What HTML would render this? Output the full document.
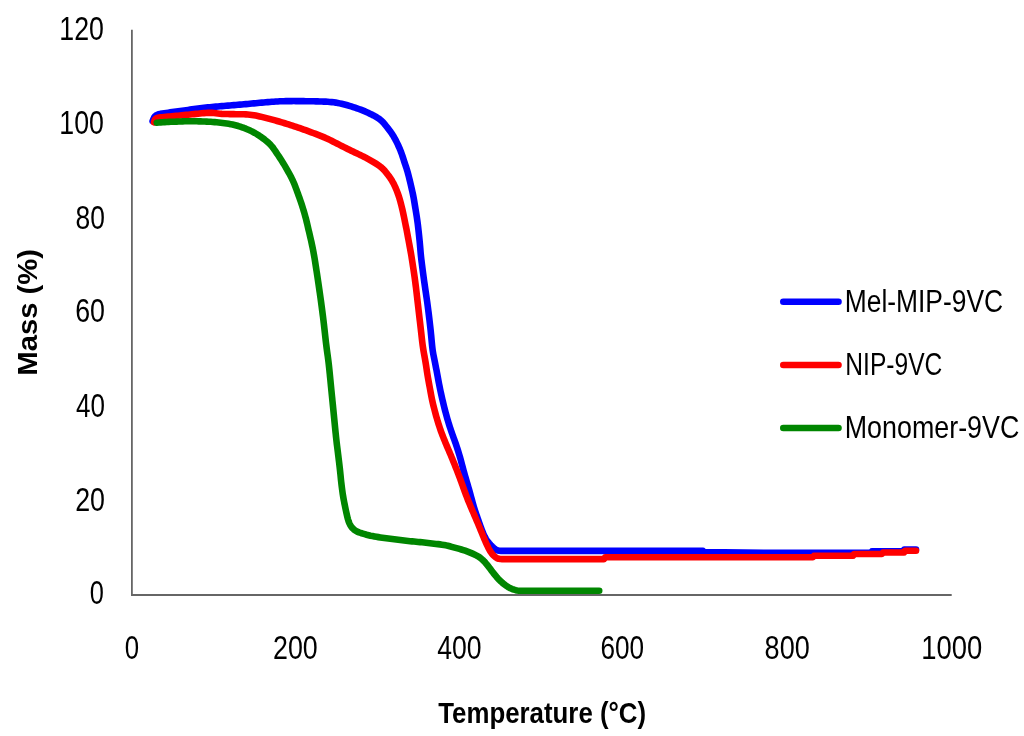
<!DOCTYPE html>
<html><head><meta charset="utf-8"><title>TGA</title>
<style>
html,body{margin:0;padding:0;background:#fff;}
svg{display:block}
text{font-family:"Liberation Sans",sans-serif;fill:#000}
</style></head><body>
<svg width="1024" height="736" viewBox="0 0 1024 736">
<rect width="1024" height="736" fill="#fff"/>
<g fill="none" stroke-linecap="round" stroke-linejoin="round" stroke-width="6.6">
<path stroke="#0000ff" d="M152.60,121.20 L153.27,119.33 L154.09,117.58 L155.22,116.09 L156.71,115.00 L158.48,114.30 L160.40,113.86 L162.37,113.53 L164.35,113.23 L166.33,112.95 L168.31,112.66 L170.29,112.38 L172.27,112.11 L174.26,111.84 L176.24,111.57 L178.22,111.30 L180.21,111.02 L182.19,110.75 L184.17,110.47 L186.15,110.19 L188.13,109.92 L190.12,109.64 L192.10,109.37 L194.08,109.10 L196.06,108.83 L198.05,108.57 L200.03,108.32 L202.02,108.07 L204.01,107.83 L205.99,107.60 L207.98,107.38 L209.97,107.18 L211.96,106.98 L213.96,106.79 L215.95,106.61 L217.94,106.43 L219.94,106.26 L221.93,106.09 L223.92,105.92 L225.92,105.75 L227.91,105.59 L229.91,105.43 L231.90,105.27 L233.90,105.11 L235.89,104.95 L237.89,104.79 L239.88,104.62 L241.88,104.46 L243.87,104.29 L245.86,104.12 L247.86,103.93 L249.85,103.75 L251.84,103.55 L253.83,103.36 L255.82,103.16 L257.82,102.97 L259.81,102.79 L261.80,102.62 L263.80,102.45 L265.79,102.29 L267.79,102.12 L269.78,101.96 L271.78,101.81 L273.77,101.67 L275.77,101.54 L277.77,101.42 L279.76,101.32 L281.76,101.24 L283.76,101.18 L285.76,101.14 L287.77,101.10 L289.77,101.09 L291.77,101.08 L293.77,101.07 L295.77,101.08 L297.77,101.09 L299.77,101.11 L301.77,101.13 L303.77,101.16 L305.77,101.18 L307.78,101.21 L309.78,101.24 L311.78,101.27 L313.78,101.31 L315.78,101.35 L317.78,101.39 L319.78,101.44 L321.78,101.50 L323.78,101.58 L325.78,101.67 L327.78,101.78 L329.77,101.92 L331.76,102.10 L333.75,102.33 L335.73,102.62 L337.70,102.97 L339.66,103.37 L341.61,103.81 L343.56,104.27 L345.50,104.76 L347.43,105.28 L349.35,105.83 L351.27,106.41 L353.18,107.02 L355.07,107.65 L356.97,108.30 L358.85,108.98 L360.72,109.68 L362.58,110.41 L364.43,111.17 L366.27,111.97 L368.09,112.80 L369.89,113.66 L371.69,114.55 L373.47,115.46 L375.23,116.41 L376.95,117.42 L378.64,118.49 L380.24,119.67 L381.75,120.97 L383.14,122.39 L384.44,123.91 L385.69,125.47 L386.93,127.03 L388.17,128.60 L389.39,130.19 L390.58,131.80 L391.73,133.44 L392.81,135.11 L393.85,136.83 L394.83,138.57 L395.77,140.33 L396.67,142.12 L397.55,143.92 L398.40,145.73 L399.22,147.55 L400.00,149.39 L400.74,151.25 L401.44,153.13 L402.11,155.01 L402.74,156.91 L403.36,158.81 L403.97,160.72 L404.59,162.62 L405.22,164.52 L405.86,166.42 L406.49,168.32 L407.08,170.23 L407.65,172.15 L408.17,174.08 L408.67,176.01 L409.16,177.96 L409.63,179.90 L410.09,181.85 L410.56,183.79 L411.02,185.74 L411.48,187.69 L411.93,189.64 L412.36,191.59 L412.78,193.55 L413.18,195.51 L413.55,197.48 L413.91,199.44 L414.25,201.42 L414.58,203.39 L414.90,205.37 L415.23,207.34 L415.55,209.31 L415.88,211.29 L416.20,213.26 L416.52,215.24 L416.83,217.22 L417.12,219.20 L417.40,221.18 L417.66,223.16 L417.91,225.15 L418.14,227.13 L418.37,229.12 L418.59,231.11 L418.81,233.10 L419.02,235.09 L419.23,237.08 L419.43,239.07 L419.62,241.06 L419.81,243.06 L419.99,245.05 L420.16,247.04 L420.33,249.04 L420.49,251.03 L420.66,253.03 L420.85,255.02 L421.06,257.01 L421.28,259.00 L421.52,260.98 L421.76,262.97 L422.01,264.96 L422.26,266.94 L422.52,268.92 L422.78,270.91 L423.04,272.89 L423.31,274.88 L423.58,276.86 L423.85,278.84 L424.12,280.83 L424.40,282.81 L424.68,284.79 L424.97,286.77 L425.26,288.75 L425.55,290.73 L425.85,292.71 L426.14,294.69 L426.43,296.67 L426.71,298.65 L426.99,300.63 L427.27,302.61 L427.54,304.59 L427.80,306.58 L428.06,308.56 L428.31,310.55 L428.56,312.53 L428.80,314.52 L429.04,316.51 L429.28,318.49 L429.51,320.48 L429.74,322.47 L429.97,324.46 L430.20,326.45 L430.42,328.43 L430.64,330.42 L430.84,332.41 L431.04,334.41 L431.24,336.40 L431.42,338.39 L431.60,340.38 L431.79,342.37 L431.98,344.37 L432.19,346.36 L432.42,348.34 L432.68,350.33 L432.98,352.31 L433.32,354.28 L433.70,356.24 L434.10,358.20 L434.51,360.16 L434.91,362.12 L435.30,364.08 L435.68,366.05 L436.06,368.01 L436.44,369.98 L436.82,371.94 L437.19,373.91 L437.56,375.88 L437.93,377.84 L438.29,379.81 L438.66,381.78 L439.03,383.75 L439.41,385.71 L439.80,387.67 L440.20,389.63 L440.62,391.59 L441.04,393.55 L441.48,395.50 L441.92,397.45 L442.37,399.40 L442.82,401.35 L443.29,403.30 L443.76,405.24 L444.24,407.18 L444.73,409.12 L445.23,411.06 L445.74,413.00 L446.27,414.93 L446.81,416.85 L447.35,418.78 L447.91,420.70 L448.49,422.62 L449.07,424.53 L449.68,426.44 L450.30,428.34 L450.94,430.24 L451.59,432.13 L452.26,434.01 L452.93,435.90 L453.61,437.78 L454.30,439.66 L454.98,441.54 L455.64,443.43 L456.29,445.32 L456.92,447.22 L457.54,449.13 L458.14,451.03 L458.73,452.95 L459.31,454.86 L459.87,456.78 L460.42,458.71 L460.95,460.64 L461.46,462.57 L461.96,464.51 L462.47,466.45 L462.98,468.38 L463.50,470.31 L464.04,472.24 L464.58,474.16 L465.14,476.09 L465.69,478.01 L466.25,479.93 L466.81,481.85 L467.37,483.77 L467.93,485.70 L468.48,487.62 L469.04,489.54 L469.59,491.46 L470.14,493.39 L470.68,495.32 L471.20,497.25 L471.72,499.18 L472.24,501.11 L472.76,503.05 L473.29,504.97 L473.85,506.90 L474.44,508.81 L475.05,510.71 L475.69,512.61 L476.35,514.50 L477.01,516.39 L477.66,518.28 L478.31,520.17 L478.96,522.06 L479.63,523.95 L480.30,525.84 L481.00,527.71 L481.71,529.58 L482.44,531.44 L483.19,533.30 L483.98,535.13 L484.84,536.94 L485.79,538.69 L486.87,540.36 L488.06,541.96 L489.34,543.49 L490.69,544.97 L492.08,546.41 L493.52,547.76 L495.01,548.96 L496.47,549.91 L497.86,550.51 L499.34,550.79 L501.07,550.88 L502.98,550.90 L504.97,550.90 L506.97,550.91 L508.97,550.91 L510.97,550.91 L512.97,550.91 L514.98,550.91 L516.98,550.91 L518.98,550.91 L520.98,550.91 L522.98,550.91 L524.98,550.91 L526.98,550.91 L528.98,550.91 L530.99,550.91 L532.99,550.91 L534.99,550.91 L536.99,550.91 L538.99,550.91 L540.99,550.91 L542.99,550.91 L544.99,550.90 L546.99,550.90 L549.00,550.90 L551.00,550.90 L553.00,550.90 L555.00,550.90 L556.00,550.90 L703.00,550.90 L704.00,552.00 L768.00,552.75 L871.00,552.75 L872.00,551.25 L903.00,551.25 L904.00,549.60 L916.00,549.60"/>
<path stroke="#ff0000" d="M154.00,122.30 L154.47,120.56 L155.24,119.13 L156.52,118.20 L158.23,117.68 L160.16,117.38 L162.14,117.16 L164.13,116.96 L166.12,116.77 L168.11,116.59 L170.10,116.42 L172.10,116.24 L174.09,116.06 L176.08,115.88 L178.07,115.69 L180.06,115.49 L182.06,115.30 L184.05,115.10 L186.04,114.90 L188.03,114.70 L190.02,114.50 L192.01,114.30 L194.00,114.10 L195.99,113.89 L197.98,113.69 L199.97,113.49 L201.96,113.30 L203.95,113.12 L205.95,112.95 L207.94,112.84 L209.94,112.81 L211.93,112.89 L213.92,113.07 L215.90,113.31 L217.89,113.55 L219.88,113.75 L221.87,113.89 L223.87,113.97 L225.87,114.02 L227.87,114.06 L229.87,114.09 L231.87,114.13 L233.87,114.17 L235.87,114.20 L237.87,114.23 L239.87,114.25 L241.87,114.27 L243.87,114.31 L245.87,114.38 L247.86,114.51 L249.85,114.69 L251.84,114.94 L253.81,115.24 L255.78,115.59 L257.74,115.98 L259.70,116.41 L261.65,116.86 L263.59,117.34 L265.53,117.83 L267.46,118.33 L269.40,118.85 L271.33,119.37 L273.26,119.90 L275.18,120.44 L277.11,120.99 L279.03,121.54 L280.95,122.11 L282.87,122.68 L284.78,123.26 L286.69,123.85 L288.60,124.45 L290.51,125.05 L292.41,125.66 L294.31,126.29 L296.21,126.92 L298.11,127.57 L300.00,128.22 L301.88,128.88 L303.77,129.56 L305.65,130.23 L307.53,130.92 L309.41,131.61 L311.28,132.30 L313.16,133.00 L315.03,133.71 L316.90,134.42 L318.77,135.14 L320.63,135.86 L322.49,136.60 L324.33,137.38 L326.16,138.19 L327.98,139.03 L329.78,139.90 L331.57,140.79 L333.36,141.69 L335.14,142.60 L336.91,143.52 L338.69,144.44 L340.47,145.36 L342.25,146.26 L344.04,147.16 L345.84,148.04 L347.63,148.92 L349.43,149.80 L351.23,150.67 L353.03,151.54 L354.83,152.41 L356.64,153.28 L358.45,154.13 L360.25,154.99 L362.06,155.86 L363.85,156.74 L365.64,157.64 L367.40,158.58 L369.16,159.54 L370.90,160.53 L372.63,161.54 L374.34,162.56 L376.04,163.62 L377.71,164.72 L379.34,165.87 L380.92,167.09 L382.42,168.41 L383.82,169.82 L385.15,171.31 L386.42,172.85 L387.65,174.43 L388.85,176.03 L390.01,177.66 L391.12,179.32 L392.17,181.02 L393.16,182.76 L394.08,184.53 L394.93,186.34 L395.74,188.17 L396.50,190.02 L397.23,191.88 L397.92,193.76 L398.58,195.64 L399.20,197.55 L399.78,199.46 L400.32,201.38 L400.84,203.32 L401.33,205.26 L401.81,207.20 L402.28,209.14 L402.72,211.09 L403.15,213.05 L403.57,215.01 L403.97,216.96 L404.38,218.92 L404.78,220.88 L405.18,222.84 L405.58,224.80 L405.97,226.76 L406.36,228.73 L406.75,230.69 L407.12,232.66 L407.50,234.62 L407.86,236.59 L408.23,238.56 L408.59,240.52 L408.95,242.49 L409.31,244.46 L409.67,246.43 L410.05,248.39 L410.41,250.36 L410.77,252.33 L411.11,254.30 L411.44,256.27 L411.75,258.25 L412.07,260.22 L412.38,262.20 L412.68,264.18 L412.99,266.15 L413.29,268.13 L413.58,270.11 L413.87,272.09 L414.16,274.07 L414.45,276.05 L414.72,278.03 L414.99,280.01 L415.26,282.00 L415.51,283.98 L415.76,285.97 L416.01,287.95 L416.24,289.94 L416.48,291.92 L416.71,293.91 L416.94,295.90 L417.17,297.89 L417.40,299.87 L417.63,301.86 L417.87,303.85 L418.10,305.83 L418.33,307.82 L418.56,309.81 L418.79,311.80 L419.02,313.78 L419.25,315.77 L419.48,317.76 L419.71,319.75 L419.94,321.73 L420.17,323.72 L420.40,325.71 L420.63,327.69 L420.86,329.68 L421.09,331.67 L421.31,333.66 L421.53,335.65 L421.75,337.63 L421.98,339.62 L422.21,341.61 L422.46,343.60 L422.72,345.58 L423.01,347.56 L423.31,349.53 L423.64,351.51 L423.98,353.48 L424.34,355.45 L424.69,357.42 L425.05,359.39 L425.39,361.36 L425.72,363.33 L426.03,365.31 L426.33,367.28 L426.63,369.26 L426.92,371.24 L427.23,373.22 L427.55,375.19 L427.88,377.17 L428.22,379.14 L428.58,381.11 L428.93,383.07 L429.30,385.04 L429.66,387.01 L430.02,388.98 L430.37,390.95 L430.73,392.91 L431.10,394.88 L431.48,396.85 L431.87,398.81 L432.29,400.76 L432.73,402.71 L433.19,404.66 L433.67,406.60 L434.17,408.54 L434.67,410.48 L435.18,412.41 L435.70,414.34 L436.23,416.27 L436.78,418.20 L437.35,420.11 L437.93,422.03 L438.52,423.94 L439.13,425.84 L439.76,427.74 L440.40,429.64 L441.07,431.52 L441.76,433.40 L442.47,435.27 L443.20,437.14 L443.94,438.99 L444.69,440.85 L445.45,442.70 L446.22,444.54 L446.99,446.39 L447.78,448.23 L448.57,450.07 L449.36,451.91 L450.15,453.74 L450.93,455.58 L451.71,457.43 L452.47,459.28 L453.23,461.13 L453.98,462.98 L454.72,464.84 L455.45,466.70 L456.19,468.57 L456.91,470.43 L457.64,472.29 L458.35,474.16 L459.07,476.03 L459.78,477.90 L460.48,479.77 L461.18,481.65 L461.87,483.53 L462.55,485.41 L463.22,487.29 L463.89,489.18 L464.57,491.06 L465.25,492.94 L465.95,494.82 L466.66,496.69 L467.39,498.55 L468.13,500.41 L468.88,502.26 L469.64,504.11 L470.41,505.96 L471.19,507.80 L471.98,509.64 L472.78,511.47 L473.57,513.31 L474.36,515.15 L475.15,516.99 L475.93,518.83 L476.71,520.67 L477.50,522.51 L478.27,524.35 L479.05,526.20 L479.82,528.04 L480.58,529.89 L481.34,531.75 L482.09,533.60 L482.85,535.45 L483.62,537.30 L484.40,539.14 L485.19,540.98 L486.00,542.81 L486.82,544.63 L487.67,546.44 L488.55,548.23 L489.50,549.99 L490.53,551.70 L491.68,553.32 L492.95,554.86 L494.34,556.25 L495.84,557.42 L497.36,558.28 L498.82,558.80 L500.34,559.03 L502.08,559.09 L504.00,559.10 L505.99,559.10 L507.99,559.10 L509.99,559.10 L511.99,559.11 L513.99,559.11 L515.99,559.11 L517.99,559.11 L519.99,559.11 L521.99,559.11 L523.99,559.11 L525.99,559.11 L527.99,559.11 L529.99,559.11 L531.99,559.11 L533.99,559.11 L535.99,559.10 L537.99,559.10 L540.00,559.10 L542.00,559.10 L544.00,559.10 L546.00,559.10 L548.00,559.10 L550.00,559.10 L552.00,559.10 L554.00,559.10 L556.00,559.10 L556.00,559.10 L604.00,559.10 L605.00,557.25 L813.00,557.25 L814.00,555.75 L853.00,555.75 L854.00,554.00 L882.00,554.00 L883.00,552.50 L904.00,552.50 L905.00,550.75 L916.00,550.75"/>
<path stroke="#008600" d="M156.75,122.75 L158.74,122.57 L160.74,122.40 L162.73,122.24 L164.73,122.10 L166.72,121.98 L168.72,121.89 L170.72,121.81 L172.72,121.75 L174.72,121.68 L176.72,121.62 L178.72,121.55 L180.72,121.47 L182.72,121.39 L184.72,121.32 L186.72,121.26 L188.72,121.23 L190.72,121.22 L192.72,121.23 L194.72,121.25 L196.72,121.28 L198.72,121.33 L200.72,121.38 L202.72,121.44 L204.72,121.51 L206.72,121.60 L208.71,121.70 L210.71,121.81 L212.71,121.95 L214.70,122.10 L216.69,122.28 L218.69,122.47 L220.67,122.69 L222.66,122.92 L224.65,123.18 L226.63,123.46 L228.60,123.78 L230.57,124.14 L232.52,124.55 L234.47,125.01 L236.41,125.51 L238.33,126.05 L240.24,126.64 L242.14,127.28 L244.02,127.96 L245.88,128.69 L247.72,129.47 L249.55,130.28 L251.35,131.14 L253.14,132.05 L254.89,133.01 L256.61,134.02 L258.31,135.08 L259.97,136.19 L261.61,137.33 L263.22,138.52 L264.81,139.73 L266.37,140.98 L267.89,142.28 L269.37,143.63 L270.77,145.05 L272.08,146.55 L273.29,148.13 L274.44,149.77 L275.55,151.43 L276.67,153.09 L277.79,154.74 L278.91,156.40 L280.02,158.07 L281.11,159.74 L282.18,161.43 L283.24,163.13 L284.28,164.84 L285.30,166.56 L286.30,168.29 L287.29,170.03 L288.26,171.78 L289.22,173.54 L290.17,175.30 L291.09,177.07 L291.99,178.86 L292.85,180.67 L293.67,182.49 L294.44,184.33 L295.18,186.19 L295.88,188.07 L296.57,189.94 L297.26,191.82 L297.94,193.71 L298.62,195.59 L299.30,197.47 L299.97,199.35 L300.62,201.24 L301.27,203.14 L301.90,205.04 L302.51,206.94 L303.10,208.85 L303.68,210.77 L304.24,212.69 L304.79,214.61 L305.32,216.54 L305.84,218.47 L306.33,220.41 L306.81,222.36 L307.27,224.30 L307.73,226.25 L308.18,228.20 L308.64,230.15 L309.10,232.09 L309.56,234.04 L310.01,235.99 L310.47,237.94 L310.91,239.89 L311.35,241.84 L311.77,243.80 L312.19,245.75 L312.59,247.71 L312.99,249.67 L313.37,251.64 L313.73,253.60 L314.09,255.57 L314.43,257.54 L314.76,259.52 L315.08,261.49 L315.39,263.47 L315.70,265.44 L316.01,267.42 L316.31,269.40 L316.61,271.38 L316.91,273.36 L317.21,275.33 L317.51,277.31 L317.81,279.29 L318.10,281.27 L318.40,283.25 L318.69,285.23 L318.98,287.21 L319.27,289.19 L319.55,291.17 L319.83,293.15 L320.11,295.13 L320.39,297.11 L320.67,299.09 L320.94,301.07 L321.21,303.06 L321.47,305.04 L321.74,307.02 L322.00,309.01 L322.26,310.99 L322.51,312.97 L322.77,314.96 L323.02,316.94 L323.26,318.93 L323.51,320.92 L323.74,322.90 L323.98,324.89 L324.20,326.88 L324.43,328.87 L324.65,330.85 L324.87,332.84 L325.09,334.83 L325.31,336.82 L325.54,338.81 L325.76,340.79 L325.99,342.78 L326.23,344.77 L326.48,346.75 L326.74,348.74 L327.00,350.72 L327.27,352.70 L327.55,354.69 L327.82,356.67 L328.08,358.65 L328.33,360.64 L328.58,362.62 L328.81,364.61 L329.03,366.60 L329.24,368.59 L329.45,370.58 L329.65,372.57 L329.84,374.56 L330.04,376.55 L330.23,378.54 L330.43,380.53 L330.62,382.52 L330.81,384.51 L331.01,386.51 L331.20,388.50 L331.40,390.49 L331.60,392.48 L331.80,394.47 L332.00,396.46 L332.20,398.45 L332.39,400.44 L332.59,402.43 L332.79,404.42 L332.99,406.41 L333.19,408.40 L333.39,410.40 L333.59,412.39 L333.79,414.38 L333.98,416.37 L334.18,418.36 L334.38,420.35 L334.57,422.34 L334.77,424.33 L334.96,426.32 L335.16,428.31 L335.36,430.31 L335.56,432.30 L335.76,434.29 L335.97,436.28 L336.18,438.27 L336.40,440.25 L336.62,442.24 L336.86,444.23 L337.10,446.22 L337.35,448.20 L337.60,450.19 L337.85,452.17 L338.09,454.16 L338.34,456.14 L338.58,458.13 L338.82,460.11 L339.07,462.10 L339.31,464.09 L339.54,466.07 L339.77,468.06 L339.99,470.05 L340.20,472.04 L340.40,474.03 L340.60,476.02 L340.79,478.01 L340.99,480.00 L341.21,481.99 L341.43,483.98 L341.67,485.97 L341.92,487.95 L342.18,489.93 L342.45,491.92 L342.75,493.89 L343.06,495.87 L343.39,497.84 L343.75,499.81 L344.11,501.78 L344.50,503.74 L344.89,505.70 L345.29,507.66 L345.71,509.62 L346.13,511.58 L346.56,513.53 L347.01,515.48 L347.48,517.42 L347.99,519.36 L348.58,521.26 L349.29,523.12 L350.17,524.90 L351.22,526.58 L352.46,528.12 L353.87,529.49 L355.46,530.65 L357.18,531.59 L359.02,532.35 L360.90,533.00 L362.81,533.59 L364.73,534.16 L366.66,534.71 L368.59,535.21 L370.54,535.68 L372.49,536.09 L374.46,536.47 L376.43,536.81 L378.40,537.13 L380.38,537.43 L382.36,537.72 L384.34,538.01 L386.32,538.28 L388.30,538.55 L390.29,538.81 L392.27,539.06 L394.26,539.31 L396.24,539.56 L398.23,539.80 L400.21,540.05 L402.20,540.29 L404.19,540.52 L406.17,540.74 L408.16,540.96 L410.15,541.16 L412.15,541.35 L414.14,541.54 L416.13,541.73 L418.12,541.92 L420.11,542.12 L422.10,542.33 L424.09,542.54 L426.08,542.76 L428.07,542.98 L430.05,543.21 L432.04,543.45 L434.03,543.68 L436.02,543.91 L438.00,544.15 L439.99,544.39 L441.97,544.66 L443.94,544.98 L445.91,545.35 L447.85,545.80 L449.79,546.31 L451.71,546.85 L453.64,547.38 L455.57,547.90 L457.51,548.41 L459.44,548.94 L461.36,549.49 L463.27,550.07 L465.17,550.71 L467.05,551.39 L468.92,552.10 L470.77,552.85 L472.61,553.64 L474.43,554.46 L476.23,555.34 L477.98,556.30 L479.65,557.38 L481.22,558.59 L482.71,559.92 L484.12,561.33 L485.46,562.81 L486.75,564.33 L488.00,565.90 L489.21,567.49 L490.41,569.09 L491.61,570.69 L492.83,572.28 L494.06,573.85 L495.32,575.40 L496.61,576.94 L497.94,578.43 L499.31,579.89 L500.73,581.29 L502.20,582.64 L503.73,583.92 L505.32,585.14 L506.96,586.27 L508.67,587.31 L510.43,588.24 L512.24,589.04 L514.06,589.70 L515.75,590.21 L517.22,590.55 L518.66,590.72 L520.31,590.78 L522.20,590.80 L524.18,590.80 L526.17,590.80 L528.18,590.80 L530.18,590.81 L532.18,590.81 L534.18,590.81 L536.18,590.81 L538.18,590.81 L540.18,590.81 L542.18,590.81 L544.18,590.81 L546.18,590.81 L548.18,590.81 L550.18,590.81 L552.18,590.81 L554.18,590.81 L556.18,590.81 L558.19,590.81 L560.19,590.81 L562.19,590.81 L564.19,590.81 L566.19,590.81 L568.19,590.81 L570.19,590.81 L572.19,590.81 L574.19,590.81 L576.19,590.81 L578.19,590.81 L580.19,590.81 L582.19,590.81 L584.19,590.80 L586.20,590.80 L588.20,590.80 L590.20,590.80 L592.20,590.80 L594.20,590.80 L596.20,590.80 L598.20,590.80 L599.20,590.80"/>
</g>
<g stroke="#666" stroke-width="1.8" fill="none">
<line x1="131.9" y1="29.8" x2="131.9" y2="595.9"/>
<line x1="131" y1="595" x2="951.7" y2="595"/>
</g>
<text transform="translate(59.28,39.60) scale(0.8107,1)" font-size="33" font-weight="normal">120</text>
<text transform="translate(59.28,134.40) scale(0.8107,1)" font-size="33" font-weight="normal">100</text>
<text transform="translate(75.62,229.00) scale(0.8005,1)" font-size="33" font-weight="normal">80</text>
<text transform="translate(75.19,322.00) scale(0.8125,1)" font-size="33" font-weight="normal">60</text>
<text transform="translate(76.04,416.60) scale(0.7888,1)" font-size="33" font-weight="normal">40</text>
<text transform="translate(75.19,510.90) scale(0.8125,1)" font-size="33" font-weight="normal">20</text>
<text transform="translate(89.76,604.10) scale(0.7697,1)" font-size="33" font-weight="normal">0</text>
<text transform="translate(124.64,659.00) scale(0.7818,1)" font-size="33" font-weight="normal">0</text>
<text transform="translate(272.99,659.00) scale(0.8123,1)" font-size="33" font-weight="normal">200</text>
<text transform="translate(437.13,659.00) scale(0.8060,1)" font-size="33" font-weight="normal">400</text>
<text transform="translate(600.42,659.00) scale(0.7933,1)" font-size="33" font-weight="normal">600</text>
<text transform="translate(764.60,659.00) scale(0.8195,1)" font-size="33" font-weight="normal">800</text>
<text transform="translate(921.24,659.00) scale(0.8309,1)" font-size="33" font-weight="normal">1000</text>
<text transform="translate(844.79,312.10) scale(0.8514,1)" font-size="31" font-weight="normal">Mel-MIP-9VC</text>
<text transform="translate(845.33,375.00) scale(0.7929,1)" font-size="31" font-weight="normal">NIP-9VC</text>
<text transform="translate(844.75,438.00) scale(0.8664,1)" font-size="31" font-weight="normal">Monomer-9VC</text>
<text transform="translate(438.25,723.00) scale(0.8611,1)" font-size="30" font-weight="bold">Temperature (°C)</text>
<text transform="translate(37.30,375.63) rotate(-90) scale(1.0906,1)" font-size="26.8" font-weight="bold">Mass (%)</text>
<g fill="none" stroke-linecap="round" stroke-width="6.6">
<line stroke="#0000ff" x1="783.3" y1="301.8" x2="838.5" y2="301.8"/>
<line stroke="#ff0000" x1="783.3" y1="365" x2="838.5" y2="365"/>
<line stroke="#008600" x1="783.3" y1="428" x2="838.5" y2="428"/>
</g>
</svg>
</body></html>
